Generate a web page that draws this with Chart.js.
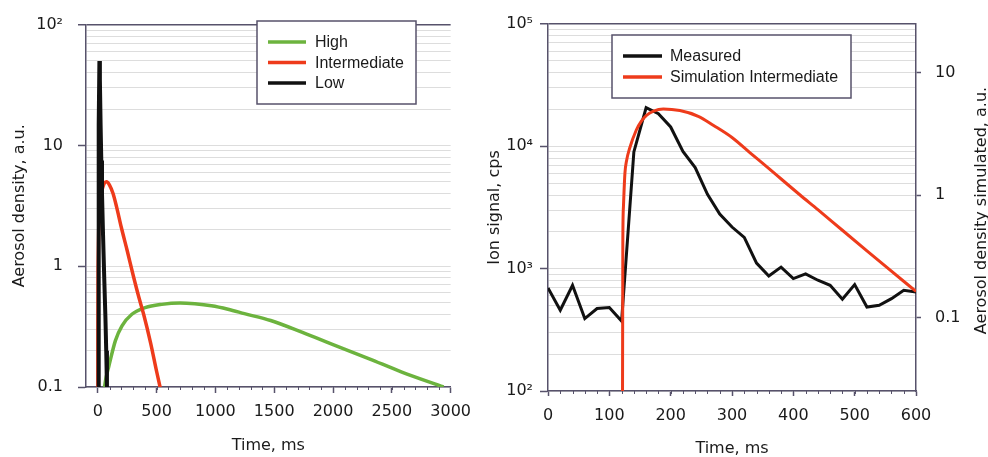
<!DOCTYPE html>
<html>
<head>
<meta charset="utf-8">
<script src="https://cdn.jsdelivr.net/npm/chart.js@4.4.1/dist/chart.umd.min.js"></script>
<style>
  body { margin:0; background:#fff; width:988px; height:457px; overflow:hidden; position:relative; }
  canvas { position:absolute; top:0; }
  #left { left:0; }
  #right { left:480px; }
</style>
</head>
<body>
<canvas id="left" width="480" height="457"></canvas>
<canvas id="right" width="508" height="457"></canvas>
<script>
// left panel - simulated aerosol density for three levels (ms, a.u.)
const highTime  = [57, 71, 93, 150, 206, 290, 403, 544, 700, 825, 966, 1107, 1247, 1470, 1740, 2022, 2303, 2585, 2940]
const highValue = [0.1, 0.12, 0.147, 0.242, 0.321, 0.40, 0.454, 0.483, 0.495, 0.488, 0.47, 0.44, 0.405, 0.355, 0.283, 0.22, 0.172, 0.133, 0.1]
const intermTime  = [0, 1, 3, 8, 15, 25, 40, 55, 73, 100, 130, 160, 200, 250, 300, 350, 390, 450, 500, 540]
const intermValue = [0.001, 0.3, 1.0, 2.0, 2.8, 3.6, 4.4, 4.85, 5.0, 4.7, 4.0, 3.1, 2.1, 1.35, 0.85, 0.55, 0.40, 0.23, 0.135, 0.09]
const lowTime  = [3, 6, 10, 14, 18, 24, 30, 36, 45, 55, 65, 72, 78, 82]
const lowValue = [0.001, 1, 15, 50, 35, 15, 7.5, 4, 1.8, 0.8, 0.38, 0.2, 0.1, 0.07]

const leftXTicks = [0, 500, 1000, 1500, 2000, 2500, 3000]
const leftYLabels = {0.1: "0.1", 1: "1", 10: "10", 100: "10²"}

// right panel - measured ion signal (cps) and simulation (a.u.)
const measuredTime  = [0, 20, 40, 60, 80, 100, 120, 140, 160, 180, 200, 220, 240, 260, 280, 300, 320, 340, 360, 380, 400, 420, 440, 460, 480, 500, 520, 540, 560, 580, 600]
const measuredValue = [695, 457, 731, 391, 472, 481, 373, 9000, 20700, 18500, 14400, 9100, 6700, 4050, 2800, 2190, 1800, 1110, 870, 1030, 830, 905, 804, 731, 562, 741, 486, 502, 569, 665, 644]
const simTime  = [121, 122, 123, 125.4, 128, 133, 144, 152, 161, 172, 188, 215, 245, 270, 300, 330, 355, 411, 440, 479, 520, 553, 600]
const simValue = [0.001, 0.4, 0.8, 1.5, 1.9, 2.4, 3.4, 4.0, 4.5, 4.85, 5.05, 4.9, 4.4, 3.7, 2.95, 2.2, 1.73, 1.0, 0.76, 0.52, 0.35, 0.255, 0.163]

const rightXTicks = [0, 100, 200, 300, 400, 500, 600]
const rightYLabels = {100: "10²", 1000: "10³", 10000: "10⁴", 100000: "10⁵"}
const right2Labels = {0.1: "0.1", 1: "1", 10: "10"}

const AXIS = "#57526b"
const GRID = "#dddddd"
const TEXT = "#1a1a1a"
const GREEN = "#6cb33e"
const RED = "#ee3b1b"
const BLACK = "#111111"

Chart.defaults.font.family = '"DejaVu Sans", Verdana, sans-serif'
Chart.defaults.font.size = 16
Chart.defaults.color = TEXT

function pts(xs, ys) { return xs.map((x, i) => ({x: x, y: ys[i]})) }

function logGrid(lo, hi) {
  const out = []
  for (let d = lo; d < hi * 0.999; d *= 10) {
    for (let k = 1; k < 10; k++) out.push(+(d * k).toPrecision(3))
  }
  out.push(hi)
  return out
}
const isDecade = v => Math.abs(Math.log10(v) - Math.round(Math.log10(v))) < 1e-6

// boxed legend inside the plot
const boxLegend = {
  id: "boxLegend",
  afterDraw(chart, args, o) {
    const c = chart.ctx
    c.save()
    c.fillStyle = "#fff"
    c.fillRect(o.x, o.y, o.w, o.h)
    c.strokeStyle = AXIS
    c.lineWidth = 1.5
    c.strokeRect(o.x, o.y, o.w, o.h)
    c.font = '16px "Liberation Sans", Arial, sans-serif'
    c.textBaseline = "middle"
    chart.data.datasets.forEach((ds, i) => {
      const y = o.rowY + i * o.rowGap
      c.strokeStyle = ds.borderColor
      c.lineWidth = 3.5
      c.beginPath()
      c.moveTo(o.lineX, y)
      c.lineTo(o.lineX + o.lineLen, y)
      c.stroke()
      c.fillStyle = TEXT
      c.fillText(ds.label, o.textX, y + 1)
    })
    c.restore()
  }
}

// small unlabeled tick marks on the time axis
const minorTicks = {
  id: "minorTicks",
  afterDraw(chart, args, o) {
    const sc = chart.scales.x, c = chart.ctx, y0 = chart.chartArea.bottom
    c.save()
    c.strokeStyle = AXIS
    c.lineWidth = 1
    for (let v = o.from; v <= o.to; v += o.step) {
      const px = Math.round(sc.getPixelForValue(v)) + 0.5
      c.beginPath()
      c.moveTo(px, y0)
      c.lineTo(px, y0 + o.len)
      c.stroke()
    }
    c.restore()
  }
}

// right axis title, reading bottom to top
const sideTitle = {
  id: "sideTitle",
  afterDraw(chart, args, o) {
    if (!o.text) return
    const c = chart.ctx, a = chart.chartArea
    c.save()
    c.translate(o.x, (a.top + a.bottom) / 2 + 3)
    c.rotate(-Math.PI / 2)
    c.font = '16px "DejaVu Sans", Verdana, sans-serif'
    c.fillStyle = TEXT
    c.textAlign = "center"
    c.textBaseline = "middle"
    c.fillText(o.text, 0, 0)
    c.restore()
  }
}

function yGrid(max) {
  return {
    color: ctx => (ctx.tick && (ctx.tick.value === max)) ? AXIS : GRID,
    lineWidth: ctx => (ctx.tick && (ctx.tick.value === max)) ? 1.5 : 1,
    tickColor: ctx => (ctx.tick && isDecade(ctx.tick.value)) ? AXIS : "rgba(0,0,0,0)",
    tickWidth: 1.5
  }
}

new Chart(document.getElementById("left"), {
  type: "line",
  data: {
    datasets: [
      {label: "High", data: pts(highTime, highValue), borderColor: GREEN, borderWidth: 3.5, cubicInterpolationMode: "monotone", order: 2},
      {label: "Intermediate", data: pts(intermTime, intermValue), borderColor: RED, borderWidth: 3.5, cubicInterpolationMode: "monotone", order: 1},
      {label: "Low", data: pts(lowTime, lowValue), borderColor: BLACK, borderWidth: 4, tension: 0, order: 0}
    ]
  },
  options: {
    responsive: false,
    animation: false,
    elements: {point: {radius: 0}},
    layout: {padding: {top: 20, right: 25, left: 0, bottom: 0}},
    plugins: {
      legend: {display: false},
      tooltip: {enabled: false},
      boxLegend: {x: 257, y: 21, w: 159, h: 83, lineX: 268, lineLen: 38, textX: 315, rowY: 42, rowGap: 20.5},
      minorTicks: {from: 100, to: 2900, step: 100, len: 3},
      sideTitle: {}
    },
    scales: {
      x: {
        type: "linear", min: -100, max: 3000,
        afterBuildTicks: s => { s.ticks = leftXTicks.map(v => ({value: v})) },
        afterFit: s => { s.height = 70 },
        grid: {drawOnChartArea: false, tickLength: 6, tickColor: AXIS, tickWidth: 1.5},
        border: {color: AXIS, width: 1.5},
        ticks: {padding: 9, maxRotation: 0, autoSkip: false, callback: v => String(v)},
        title: {display: true, text: "Time, ms", font: {size: 16, lineHeight: 1}, padding: {top: 0, bottom: 3}}
      },
      y: {
        type: "logarithmic", min: 0.1, max: 100,
        afterBuildTicks: s => { s.ticks = logGrid(0.1, 100).map(v => ({value: v})) },
        afterFit: s => { s.width = 86 },
        grid: yGrid(100),
        border: {color: AXIS, width: 1.5},
        ticks: {padding: 15, autoSkip: false, callback: v => leftYLabels[v] || ""},
        title: {display: true, text: "Aerosol density, a.u.", font: {size: 16, lineHeight: 1}, padding: {top: 12, bottom: 0}}
      }
    }
  },
  plugins: [boxLegend, minorTicks, sideTitle]
})

new Chart(document.getElementById("right"), {
  type: "line",
  data: {
    datasets: [
      {label: "Measured", data: pts(measuredTime, measuredValue), borderColor: BLACK, borderWidth: 3, tension: 0, yAxisID: "y", order: 1},
      {label: "Simulation Intermediate", data: pts(simTime, simValue), borderColor: RED, borderWidth: 3, cubicInterpolationMode: "monotone", yAxisID: "y2", order: 0}
    ]
  },
  options: {
    responsive: false,
    animation: false,
    elements: {point: {radius: 0}},
    layout: {padding: {top: 24, right: 0, left: 0, bottom: 0}},
    plugins: {
      legend: {display: false},
      tooltip: {enabled: false},
      boxLegend: {x: 132, y: 35, w: 239, h: 63, lineX: 143, lineLen: 39, textX: 190, rowY: 56, rowGap: 21},
      minorTicks: {from: 20, to: 580, step: 20, len: 3},
      sideTitle: {text: "Aerosol density simulated, a.u.", x: 502}
    },
    scales: {
      x: {
        type: "linear", min: 0, max: 600,
        afterBuildTicks: s => { s.ticks = rightXTicks.map(v => ({value: v})) },
        afterFit: s => { s.height = 66 },
        grid: {drawOnChartArea: false, tickLength: 5, tickColor: AXIS, tickWidth: 1.5},
        border: {color: AXIS, width: 1.5},
        ticks: {padding: 10, maxRotation: 0, autoSkip: false, callback: v => String(v)},
        title: {display: true, text: "Time, ms", font: {size: 16, lineHeight: 1}, padding: {top: 0, bottom: 0}}
      },
      y: {
        type: "logarithmic", position: "left", min: 100, max: 100000,
        afterBuildTicks: s => { s.ticks = logGrid(100, 100000).map(v => ({value: v})) },
        afterFit: s => { s.width = 68 },
        grid: yGrid(100000),
        border: {color: AXIS, width: 1.5},
        ticks: {padding: 7, autoSkip: false, callback: v => rightYLabels[v] || ""},
        title: {display: true, text: "Ion signal, cps", font: {size: 16, lineHeight: 1}, padding: {top: 7, bottom: 0}}
      },
      y2: {
        type: "logarithmic", position: "right", min: 0.025, max: 25,
        afterBuildTicks: s => { s.ticks = [0.1, 1, 10].map(v => ({value: v})) },
        afterFit: s => { s.width = 72 },
        grid: {drawOnChartArea: false, tickLength: 5, tickColor: AXIS, tickWidth: 1.5},
        border: {color: AXIS, width: 1.5},
        ticks: {padding: 14, autoSkip: false, callback: v => right2Labels[v] || ""}
      }
    }
  },
  plugins: [boxLegend, minorTicks, sideTitle]
})
</script>
</body>
</html>
